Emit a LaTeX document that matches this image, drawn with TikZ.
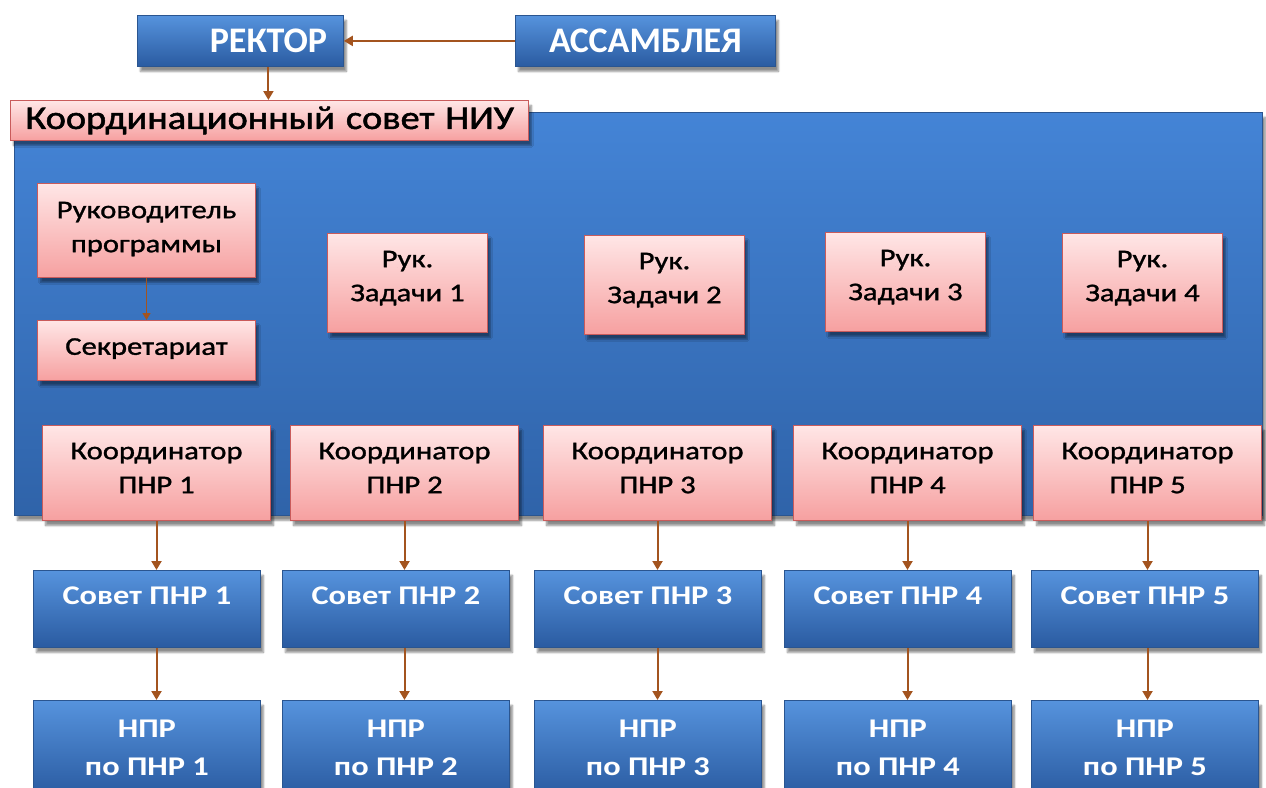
\documentclass[tikz,border=0pt]{standalone}
\usepackage{fontspec}
\setmainfont{Carlito}
\newfontfamily\boxfont[FakeStretch=1.2,FakeBold=1.2]{Carlito}
\newfontfamily\boxboldfont[FakeStretch=1.2,BoldFont={Carlito Bold}]{Carlito}
\newfontfamily\titlefont[FakeStretch=1.16,FakeBold=1.6]{Carlito}
\usetikzlibrary{shadows,shadows.blur,arrows.meta}

\definecolor{bluetop}{HTML}{5693DD}
\definecolor{bluebot}{HTML}{2A5BA1}
\definecolor{blueedge}{HTML}{2A5590}
\definecolor{paneltop}{HTML}{4484D6}
\definecolor{panelbot}{HTML}{2F63A9}
\definecolor{pinktop}{HTML}{FFE6E6}
\definecolor{pinkbot}{HTML}{F6A0A0}
\definecolor{pinkedge}{HTML}{C95B5B}
\definecolor{linkbrown}{HTML}{A3541F}

\begin{document}
\begin{tikzpicture}[x=1pt,y=-1pt,
  boxbase/.style={inner sep=0pt, anchor=north west, align=center,
    blur shadow={shadow xshift=3pt, shadow yshift=-5pt, shadow opacity=45, shadow blur steps=6}},
  bluebox/.style={boxbase, draw=blueedge, line width=0.8pt,
    top color=bluetop, bottom color=bluebot, text=white,
    font=\boxboldfont\bfseries\fontsize{27}{38}\selectfont},
  pinkbox/.style={boxbase, draw=pinkedge, line width=1pt,
    top color=pinktop, bottom color=pinkbot, text=black,
    font=\boxfont\fontsize{25.5}{34}\selectfont},
  headbox/.style={bluebox, font=\bfseries\fontsize{36}{40}\selectfont},
  link/.style={draw=linkbrown, line width=2pt, -{Triangle[width=10pt,length=9pt]}},
  thinlink/.style={draw=linkbrown, line width=1.3pt, -{Triangle[width=8pt,length=7pt]}}
]
\useasboundingbox (0,0) rectangle (1266,787);
\clip (0,0) rectangle (1266,787);

% top level
\node[headbox, minimum width=206pt, minimum height=51pt] (rector) at (137,15)
  {\hspace*{56pt}РЕКТОР};
\node[headbox, minimum width=260pt, minimum height=51pt] (assembly) at (515,15) {АССАМБЛЕЯ};

% coordination council panel
\node[boxbase, draw=blueedge, line width=0.6pt, top color=paneltop, bottom color=panelbot,
      minimum width=1248pt, minimum height=403pt] (panel) at (14,112) {};
\node[pinkbox, minimum width=518pt, minimum height=40pt, text width=518pt, align=left,
      font=\titlefont\fontsize{33}{40}\selectfont] (council) at (10,100)
      {\hspace*{15pt}Координационный совет НИУ};

% programme management
\node[pinkbox, minimum width=218pt, minimum height=94pt] (lead) at (37,183)
  {Руководитель\\программы\\[-27pt]};
\node[pinkbox, minimum width=218pt, minimum height=60pt] (secr) at (37,320)
  {Секретариат\\[-26pt]};

% task leaders
\node[pinkbox, minimum width=160pt, minimum height=99pt] (t1) at (327,233) {Рук.\\Задачи 1\\[-20pt]};
\node[pinkbox, minimum width=160pt, minimum height=99pt] (t2) at (584,235) {Рук.\\Задачи 2\\[-20pt]};
\node[pinkbox, minimum width=160pt, minimum height=99pt] (t3) at (825,232) {Рук.\\Задачи 3\\[-20pt]};
\node[pinkbox, minimum width=160pt, minimum height=99pt] (t4) at (1062,233) {Рук.\\Задачи 4\\[-20pt]};

% coordinators, councils and staff for each direction
\foreach \i/\kx/\sx in {1/42/33, 2/290/282, 3/543/534, 4/793/784, 5/1033/1031} {
  \node[pinkbox, minimum width=228pt, minimum height=95pt] (k\i) at (\kx,425)
    {Координатор\\ПНР \i\\[-24pt]};
  \node[bluebox, minimum width=227pt, minimum height=77pt,
        text height=19pt, text depth=28pt] (s\i) at (\sx,570) {Совет ПНР \i};
  \node[bluebox, minimum width=227pt, minimum height=95pt] (n\i) at (\sx,700)
    {НПР\\по ПНР \i};
  \draw[link] (k\i.south) -- (k\i.south |- s\i.north);
  \draw[link] (s\i.south -| k\i.south) -- (n\i.north -| k\i.south);
}

% connectors
\draw[link] (assembly.west) -- (rector.east);
\draw[link] ([xshift=28pt]rector.south) -- ([xshift=28pt]rector.south |- council.north);
\draw[thinlink] (lead.south) -- (secr.north);
\end{tikzpicture}
\end{document}
